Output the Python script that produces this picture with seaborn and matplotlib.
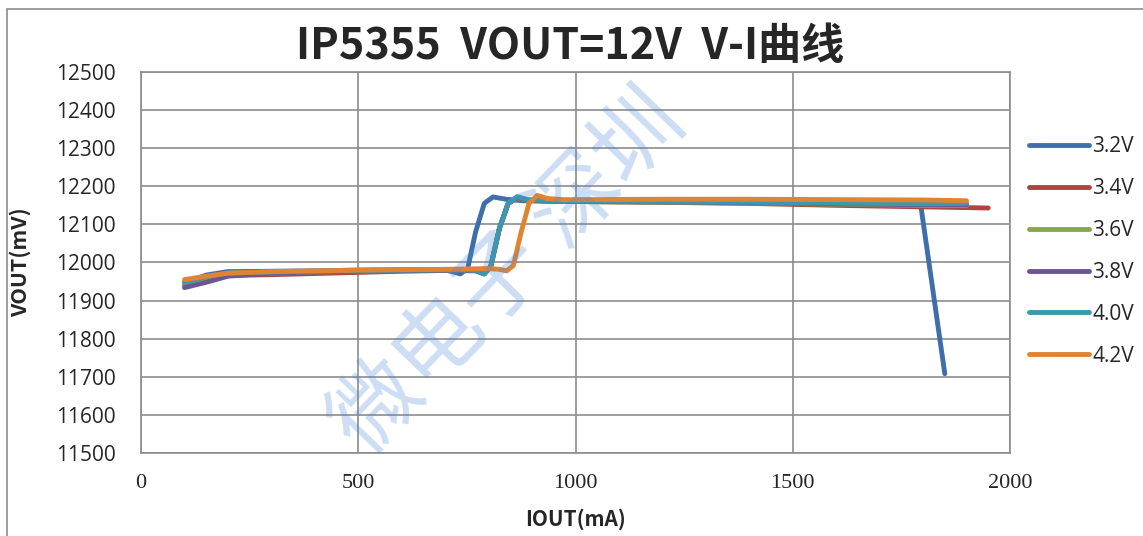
import matplotlib
matplotlib.use("Agg")
import matplotlib.pyplot as plt
import seaborn as sns
import pandas as pd

# V-I curves, one per battery voltage
series_names = ["3.2V", "3.4V", "3.6V", "3.8V", "4.0V", "4.2V"]

iout_32 = [100, 150, 200, 300, 400, 500, 600, 700, 735, 752, 770, 790, 810, 840, 880, 1000, 1200, 1400, 1600, 1795, 1850]
vout_32 = [11946, 11967, 11976, 11977, 11978, 11980, 11981, 11981, 11970, 11985, 12080, 12155, 12172, 12166, 12162, 12161, 12160, 12158, 12154, 12148, 11708]

iout_34 = [100, 150, 200, 300, 400, 500, 600, 700, 770, 790, 805, 825, 845, 866, 890, 950, 1000, 1200, 1400, 1600, 1800, 1950]
vout_34 = [11940, 11955, 11966, 11968, 11971, 11974, 11977, 11979, 11978, 11970, 11990, 12090, 12155, 12170, 12163, 12160, 12160, 12158, 12155, 12150, 12146, 12143]

iout_36 = [100, 150, 200, 300, 400, 500, 600, 700, 770, 790, 805, 825, 845, 866, 890, 950, 1000, 1200, 1400, 1600, 1800, 1900]
vout_36 = [11942, 11960, 11970, 11972, 11975, 11977, 11979, 11980, 11979, 11970, 11990, 12090, 12155, 12170, 12163, 12160, 12160, 12158, 12156, 12153, 12150, 12150]

iout_38 = [100, 150, 200, 300, 400, 500, 600, 700, 770, 790, 805, 825, 845, 866, 890, 950, 1000, 1200, 1400, 1600, 1800, 1900]
vout_38 = [11934, 11948, 11964, 11972, 11975, 11977, 11979, 11980, 11979, 11970, 11990, 12090, 12155, 12171, 12164, 12161, 12160, 12159, 12157, 12154, 12152, 12152]

iout_40 = [100, 150, 200, 300, 400, 500, 600, 700, 770, 790, 805, 825, 845, 866, 890, 950, 1000, 1200, 1400, 1600, 1800, 1900]
vout_40 = [11948, 11963, 11972, 11975, 11977, 11979, 11980, 11981, 11980, 11970, 11990, 12090, 12155, 12173, 12165, 12162, 12161, 12160, 12158, 12156, 12154, 12155]

iout_42 = [100, 150, 200, 300, 400, 500, 600, 700, 800, 825, 842, 857, 875, 893, 912, 935, 970, 1000, 1200, 1400, 1600, 1800, 1900]
vout_42 = [11955, 11964, 11972, 11976, 11978, 11980, 11981, 11982, 11984, 11982, 11978, 11992, 12080, 12155, 12176, 12168, 12165, 12165, 12166, 12166, 12165, 12164, 12162]

series_iout = [iout_32, iout_34, iout_36, iout_38, iout_40, iout_42]
series_vout = [vout_32, vout_34, vout_36, vout_38, vout_40, vout_42]

x_ticks = [0, 500, 1000, 1500, 2000]
y_ticks = [11500, 11600, 11700, 11800, 11900, 12000, 12100, 12200, 12300, 12400, 12500]

colors = ["#3f6eaa", "#ae4542", "#87a84a", "#6d5594", "#3b98b0", "#e08434"]

frames = []
for name, xs, ys in zip(series_names, series_iout, series_vout):
    frames.append(pd.DataFrame({"IOUT": xs, "VOUT": ys, "series": name}))
df = pd.concat(frames, ignore_index=True)

sns.set_style("white")
plt.rcParams["font.family"] = ["Noto Sans CJK SC", "DejaVu Sans"]

fig = plt.figure(figsize=(11.43, 5.36), dpi=100)
ax = fig.add_axes([0.1234, 0.1549, 0.7602, 0.7108])

sns.lineplot(data=df, x="IOUT", y="VOUT", hue="series", hue_order=series_names,
             palette=colors, sort=False, estimator=None, linewidth=3.5,
             ax=ax, legend=True)
for line in ax.get_lines():
    line.set_solid_capstyle("round")
    line.set_solid_joinstyle("round")

ax.set_xlim(0, 2000)
ax.set_ylim(11500, 12500)
ax.set_xticks(x_ticks)
ax.set_yticks(y_ticks)
ax.set_xticklabels([str(t) for t in x_ticks], family="Liberation Serif", fontsize=16)
ax.set_yticklabels([str(t) for t in y_ticks], family="Open Sans", fontsize=15)
ax.tick_params(axis="both", length=0)
ax.tick_params(axis="x", pad=15)
ax.tick_params(axis="y", pad=18)
ax.grid(True, color="#8c8c8c", linewidth=1.2)
ax.set_axisbelow(True)
for sp in ax.spines.values():
    sp.set_color("#8c8c8c")
    sp.set_linewidth(1.2)

ax.set_xlabel("IOUT(mA)", fontsize=15, fontweight="bold")
ax.set_ylabel("VOUT(mV)", fontsize=15.5, fontweight="bold")
ax.xaxis.set_label_coords(0.5, -0.146)
ax.yaxis.set_label_coords(-0.127, 0.5)

fig.text(0.499, 0.915, "IP5355  VOUT=12V  V-I曲线", ha="center", va="center",
         fontsize=31, fontweight="bold")

handles, labels = ax.get_legend_handles_labels()
for h in handles:
    h.set_linewidth(3.5)
    h.set_solid_capstyle("round")
ax.legend(handles, labels, loc="upper left", bbox_to_anchor=(1.0, 0.88),
          frameon=False, handlelength=2.9, handletextpad=0.15,
          labelspacing=1.0, prop={"family": "Open Sans", "size": 15})

# outer chart border
fig.patches.append(plt.Rectangle((0.006, -0.01), 1.2, 0.993, transform=fig.transFigure,
                                 fill=False, edgecolor="#8c8c8c", linewidth=1.2))

# faint watermark over the chart
fig.text(0.445, 0.49, "微电子 深圳", ha="center", va="center", rotation=46,
         fontsize=64, color="#4a86d8", alpha=0.28, zorder=10,
         family=["Noto Sans CJK SC", "DejaVu Sans"])

fig.savefig("out.png", dpi=100)
